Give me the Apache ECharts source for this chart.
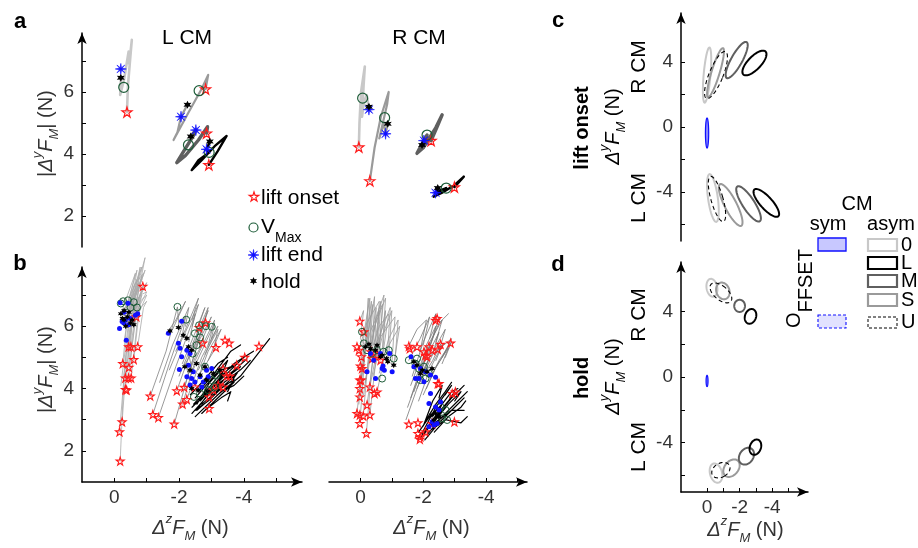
<!DOCTYPE html>
<html><head><meta charset="utf-8">
<script src="https://cdn.jsdelivr.net/npm/echarts@6/dist/echarts.min.js"></script>
<style>html,body{margin:0;padding:0;background:#fff}#c{width:918px;height:548px}</style>
</head><body><div id="c"></div>
<script>
// ---------- tick values / labels ----------
const yTicksAB = [2, 3, 4, 5, 6, 7];
const yLabelsAB = [2, 4, 6];
const xTicksB = [0, -1, -2, -3, -4, -5];
const xLabelsB = [0, -2, -4];
const yTicksCD = [-6, -4, -2, 0, 2, 4];
const yLabelsCD = [-4, 0, 4];
const xTicksD = [0, -1, -2, -3, -4, -5];
const xLabelsD = [0, -2, -4];

// ---------- panel a: mean trajectories (ΔzF, |ΔyF|) ----------
const aL0 = [[-0.39,5.35],[-0.42,6.2],[-0.5,7.2],[-0.54,7.68],[-0.46,6.9],[-0.44,7.3],[-0.3,6.4],[-0.18,5.9],[-0.2,6.4]];
const aLS = [[-2.82,6.09],[-2.9,6.55],[-2.7,6.1],[-2.3,5.35],[-1.83,4.45],[-1.95,4.7],[-2.06,5.2],[-2.26,5.59]];
const aLM = [[-2.85,4.67],[-2.88,4.88],[-2.6,4.45],[-2.2,3.95],[-1.93,3.72],[-2.15,4.1],[-2.45,4.6],[-2.52,4.77],[-2.36,4.56]];
const aLL = [[-2.92,3.65],[-3.2,4.1],[-3.47,4.58],[-3.1,4.25],[-2.7,3.8],[-2.39,3.48],[-2.6,3.8],[-2.93,4.05],[-2.85,4.15],[-2.95,4.4]];
const aR0 = [[0.05,4.22],[0.03,5.0],[-0.02,6.0],[-0.14,6.82],[-0.1,6.2],[-0.05,5.2],[-0.1,5.6],[-0.2,5.9],[-0.27,5.47]];
const aRS = [[-0.3,3.13],[-0.45,4.2],[-0.65,5.2],[-0.9,6.0],[-0.85,5.6],[-0.6,4.5],[-0.75,5.0],[-0.8,4.65],[-0.87,4.97]];
const aRM = [[-2.25,4.43],[-2.45,4.9],[-2.6,5.26],[-2.4,4.85],[-2.0,4.2],[-1.8,4.02],[-2.0,4.4],[-2.12,4.61],[-1.96,4.29]];
const aRL = [[-2.99,2.93],[-3.29,3.27],[-3.0,3.0],[-2.6,2.75],[-2.33,2.62],[-2.6,2.85],[-2.73,2.9],[-2.39,2.75],[-2.46,2.9]];

const aLOnset = [[-0.39,5.35],[-2.82,6.09],[-2.85,4.67],[-2.92,3.65]];
const aLVmax  = [[-0.29,6.15],[-2.62,6.04],[-2.29,4.29],[-2.93,4.05]];
const aLEnd   = [[-0.2,6.74],[-2.06,5.2],[-2.52,4.77],[-2.85,4.15]];
const aLHold  = [[-0.2,6.46],[-2.26,5.59],[-2.36,4.56],[-2.95,4.4]];
const aROnset = [[0.05,4.22],[-0.3,3.13],[-2.25,4.43],[-2.99,2.93]];
const aRVmax  = [[-0.07,5.8],[-0.77,5.17],[-2.12,4.61],[-2.73,2.9]];
const aREnd   = [[-0.27,5.43],[-0.8,4.65],[-2.02,4.43],[-2.39,2.75]];
const aRHold  = [[-0.27,5.52],[-0.87,4.97],[-1.96,4.29],[-2.46,2.9]];

// ---------- panel b: single trials ----------
const trajBL0 = [
 [[-0.18,1.67],[-0.3,4.5],[-0.55,7.0],[-0.3,6.3]],
 [[-0.16,2.61],[-0.35,5.0],[-0.7,7.5],[-0.25,6.4]],
 [[-0.24,2.93],[-0.4,5.2],[-0.8,7.9],[-0.4,6.2]],
 [[-0.34,3.97],[-0.5,5.8],[-0.95,8.2],[-0.45,6.3]],
 [[-0.34,4.34],[-0.6,6.5],[-0.85,7.6],[-0.35,6.0]],
 [[-0.44,4.34],[-0.7,6.8],[-0.9,7.3],[-0.5,6.1]],
 [[-0.52,4.34],[-0.8,7.0],[-1.0,7.1],[-0.55,6.2]],
 [[-0.45,4.68],[-0.6,6.9],[-0.75,7.4],[-0.3,6.5]],
 [[-0.26,4.8],[-0.45,6.8],[-0.65,7.7],[-0.2,6.4]],
 [[-0.6,4.93],[-0.8,6.8],[-1.0,7.0],[-0.6,6.05]],
 [[-0.44,5.34],[-0.6,7.0],[-0.85,7.5],[-0.4,6.3]],
 [[-0.72,5.34],[-0.9,6.6],[-1.0,6.8],[-0.5,6.25]],
 [[-0.68,6.3],[-0.85,7.0],[-0.7,6.6],[-0.45,6.45]],
 [[-0.88,7.28],[-0.8,7.0],[-0.55,6.5],[-0.3,6.2]],
 [[-0.51,5.34],[-0.75,7.2],[-0.95,7.8],[-0.35,6.1]],
 [[-0.3,5.5],[-0.55,7.1],[-0.85,7.9],[-0.4,6.4]],
 [[-0.2,4.1],[-0.45,6.2],[-0.7,7.8],[-0.3,6.35]],
 [[-0.5,5.0],[-0.75,6.9],[-1.0,7.4],[-0.5,6.3]],
 [[-0.35,6.0],[-0.6,7.3],[-0.9,7.7],[-0.45,6.5]]
];
const trajBLS = [
 [[-1.11,3.76],[-1.6,5.2],[-1.95,6.62],[-2.0,5.9]],
 [[-1.19,3.17],[-1.7,4.8],[-2.2,6.3],[-2.1,5.7]],
 [[-1.36,3.07],[-1.9,4.7],[-2.5,6.4],[-2.3,5.5]],
 [[-1.85,2.86],[-2.3,4.5],[-2.8,6.2],[-2.5,5.3]],
 [[-1.6,5.75],[-1.9,6.2],[-2.2,6.8],[-1.8,5.9]],
 [[-1.93,3.93],[-2.4,5.3],[-2.9,6.5],[-2.6,5.6]],
 [[-2.16,4.04],[-2.6,5.5],[-3.0,6.3],[-2.7,5.5]],
 [[-2.11,3.5],[-2.5,4.9],[-3.1,6.2],[-2.9,5.4]],
 [[-2.24,3.65],[-2.7,5.0],[-3.2,6.0],[-2.8,5.1]],
 [[-2.49,4.05],[-2.9,5.2],[-3.3,5.9],[-2.9,4.9]],
 [[-2.82,6.11],[-2.6,5.6],[-2.3,5.1],[-2.4,4.6]],
 [[-2.62,5.96],[-2.5,5.4],[-2.2,4.8],[-2.3,4.4]],
 [[-2.73,5.46],[-2.5,5.0],[-2.3,4.5]],
 [[-3.14,5.32],[-2.9,4.9],[-2.6,4.4]],
 [[-1.4,4.2],[-1.8,5.4],[-2.3,6.6],[-2.2,6.0]],
 [[-1.7,4.6],[-2.1,5.6],[-2.6,6.7],[-2.4,6.0]],
 [[-2.0,4.4],[-2.4,5.4],[-2.9,6.6],[-2.7,5.8]],
 [[-2.3,4.3],[-2.7,5.2],[-3.1,6.1],[-3.0,5.6]],
 [[-2.1,4.8],[-2.5,5.8],[-2.8,6.6],[-2.6,6.0]],
 [[-1.9,5.2],[-2.2,5.9],[-2.6,6.9],[-2.4,6.2]],
 [[-2.6,4.6],[-2.9,5.3],[-3.2,5.9],[-3.1,5.4]]
];
const trajBLL = [
 [[-2.4,3.2],[-3.0,3.9],[-3.6,4.5],[-4.1,4.95]],
 [[-2.5,3.1],[-3.2,3.8],[-3.9,4.4],[-4.8,5.6]],
 [[-2.6,3.4],[-3.1,4.1],[-3.5,4.6],[-3.8,4.8]],
 [[-2.7,3.5],[-3.3,4.0],[-3.7,4.3],[-3.5,3.9]],
 [[-2.5,3.7],[-3.0,4.3],[-3.5,4.9],[-3.3,4.4]],
 [[-2.8,3.3],[-3.3,3.7],[-3.6,3.9],[-3.5,3.6]],
 [[-2.6,3.9],[-3.1,4.5],[-3.6,5.2],[-3.9,5.4]],
 [[-2.9,3.6],[-3.4,4.2],[-3.9,4.6],[-4.2,4.9]],
 [[-2.45,3.5],[-2.9,4.0],[-3.3,4.5],[-3.2,4.2]],
 [[-2.7,3.2],[-3.1,3.6],[-3.5,4.0],[-3.7,4.2]],
 [[-2.55,3.3],[-3.0,3.7],[-3.4,4.1],[-3.8,4.5]],
 [[-2.9,3.9],[-3.3,4.4],[-3.7,4.8],[-4.3,5.2]],
 [[-2.5,3.3],[-2.9,3.6],[-3.3,4.0],[-3.6,4.3]],
 [[-2.65,3.6],[-3.0,4.0],[-3.4,4.3],[-3.9,4.7]],
 [[-2.75,3.8],[-3.2,4.2],[-3.6,4.6],[-4.0,5.0]],
 [[-2.4,3.4],[-2.8,3.8],[-3.2,4.2],[-3.5,4.5]],
 [[-2.85,3.45],[-3.3,3.9],[-3.7,4.1],[-4.0,4.4]],
 [[-2.55,3.5],[-2.95,4.2],[-3.3,4.6],[-3.6,4.7]],
 [[-3.0,3.8],[-3.4,4.3],[-3.8,4.5],[-3.6,4.2]],
 [[-2.35,3.8],[-2.8,4.3],[-3.2,4.8],[-3.5,5.0]]
];
const bLOnset = [[-0.88,7.28],[-0.68,6.3],[-0.72,5.34],[-0.44,5.34],[-0.51,5.34],[-0.6,4.93],[-0.26,4.8],[-0.45,4.68],[-0.34,4.34],[-0.44,4.34],[-0.52,4.34],[-0.34,3.97],[-0.38,3.95],[-0.24,2.93],[-0.16,2.61],[-0.18,1.67],
 [-1.11,3.76],[-1.19,3.17],[-1.36,3.07],[-1.85,2.86],[-1.93,3.93],[-2.16,4.04],[-2.11,3.5],[-2.24,3.65],[-2.49,4.05],[-2.82,6.11],[-2.62,5.96],[-2.73,5.46],[-3.14,5.32],[-3.42,5.55],[-3.55,5.46],[-4.03,5.0],[-3.78,4.75],[-3.36,4.63],[-3.47,4.4],[-3.57,4.4],[-3.21,4.11],[-3.06,3.95],[-2.93,3.73],[-2.93,3.36],[-3.36,4.05],[-4.47,5.36]];
const bLVmax = [[-0.27,6.8],[-0.42,6.83],[-0.6,6.77],[-0.2,6.73],[-0.7,6.6],[-0.5,6.6],
 [-1.95,6.62],[-2.22,6.21],[-2.62,6.03],[-2.83,6.0],[-3.01,5.98],[-2.49,5.77],[-2.65,5.64],[-2.54,5.39],[-2.42,5.12],[-2.8,4.7],[-3.16,4.43],[-3.01,4.27],[-2.46,3.73],[-2.65,3.84],[-2.9,3.95],[-3.11,4.05]];
const bLEnd = [[-0.18,6.75],[-0.42,6.74],[-0.72,6.4],[-0.65,6.35],[-0.34,6.2],[-0.24,6.15],[-0.16,5.93],[-0.37,5.55],[-0.29,6.1],[-0.44,6.05],[-0.49,6.25],[-0.3,6.45],
 [-1.67,5.77],[-2.08,6.16],[-1.98,5.45],[-2.03,5.29],[-2.08,5.02],[-2.24,5.23],[-2.34,5.12],[-2.01,4.61],[-2.29,4.75],[-2.44,4.54],[-2.65,4.38],[-2.85,4.59],[-3.01,4.64],[-2.75,4.21],[-2.7,4.05],[-2.49,4.21],[-2.34,4.11],[-2.9,4.38],[-2.24,4.38],[-2.39,4.32]];
const bLHold = [[-0.2,6.4],[-0.3,6.5],[-0.4,6.3],[-0.25,6.25],[-0.35,6.0],[-0.5,6.1],[-0.45,6.45],[-0.55,6.2],[-0.3,6.2],[-0.6,6.05],
 [-1.72,5.85],[-1.98,5.96],[-2.13,5.71],[-2.24,5.61],[-2.29,5.34],[-2.39,5.23],[-2.18,4.7],[-2.34,4.59],[-2.54,4.8],[-2.8,4.7],[-2.65,4.43],[-2.85,4.27],[-3.06,4.48],[-3.26,4.59],[-2.39,4.0],[-2.59,3.95]];

const trajBR0 = [
 [[0.02,2.88],[-0.1,4.5],[-0.25,6.9],[-0.2,5.4]],
 [[0.11,3.2],[-0.05,4.8],[-0.35,6.8],[-0.3,5.3]],
 [[-0.09,3.12],[-0.25,5.0],[-0.5,6.6],[-0.45,5.2]],
 [[-0.19,2.56],[-0.35,4.6],[-0.6,6.5],[-0.5,5.0]],
 [[-0.3,3.15],[-0.5,5.0],[-0.8,6.5],[-0.7,5.0]],
 [[-0.21,3.47],[-0.45,5.3],[-0.95,6.6],[-0.85,4.9]],
 [[0.02,4.0],[-0.2,5.6],[-0.4,6.7],[-0.3,5.3]],
 [[-0.3,4.05],[-0.6,5.6],[-1.1,6.3],[-1.0,4.8]],
 [[-0.53,3.89],[-0.8,5.2],[-1.25,6.0],[-1.05,4.7]],
 [[0,4.72],[-0.15,6.0],[-0.3,6.9],[-0.25,5.4]],
 [[0.05,5.23],[-0.2,6.1],[-0.6,6.8],[-0.5,5.2]],
 [[-0.34,5.18],[-0.6,6.0],[-0.9,6.4],[-0.7,5.0]],
 [[0.02,6.16],[-0.1,6.5],[0.0,5.6],[-0.2,5.3]],
 [[0.02,4.27],[-0.3,5.8],[-0.7,6.7],[-0.6,5.1]],
 [[0.05,3.5],[-0.15,5.2],[-0.45,6.95],[-0.4,5.4]],
 [[-0.1,3.8],[-0.35,5.5],[-0.65,6.8],[-0.55,5.2]],
 [[-0.4,4.4],[-0.7,5.7],[-1.0,6.5],[-0.9,5.0]],
 [[-0.15,4.2],[-0.45,6.0],[-0.8,6.9],[-0.7,5.3]],
 [[-0.6,4.5],[-0.9,5.6],[-1.2,6.2],[-1.1,4.9]],
 [[-0.25,4.6],[-0.5,6.3],[-0.75,7.0],[-0.6,5.4]]
];
const trajBRS = [
 [[-1.5,3.4],[-1.9,4.5],[-2.3,5.6],[-2.5,6.3]],
 [[-1.6,3.7],[-2.0,4.9],[-2.5,6.1],[-2.8,6.4]],
 [[-1.54,4.91],[-1.9,5.6],[-2.2,6.3],[-2.0,5.4]],
 [[-1.7,3.9],[-2.1,5.0],[-2.5,5.8],[-2.3,5.1]],
 [[-1.8,4.0],[-2.2,5.0],[-2.7,5.9],[-2.5,5.2]],
 [[-1.54,5.36],[-1.8,5.9],[-2.1,6.2],[-1.9,5.2]],
 [[-1.9,4.2],[-2.3,5.1],[-2.9,5.6],[-2.6,5.0]],
 [[-2.0,3.8],[-2.4,4.7],[-2.8,5.3],[-2.6,4.8]],
 [[-1.65,4.4],[-2.0,5.5],[-2.4,6.4],[-2.2,5.6]],
 [[-2.18,5.34],[-2.0,4.8],[-1.8,4.3]],
 [[-2.55,5.42],[-2.3,4.9],[-2.0,4.4]],
 [[-2.87,5.46],[-2.6,5.0],[-2.3,4.5]],
 [[-1.6,4.1],[-2.0,5.2],[-2.4,6.0],[-2.2,5.3]],
 [[-1.75,4.3],[-2.1,5.3],[-2.6,6.2],[-2.4,5.5]],
 [[-1.85,3.6],[-2.2,4.6],[-2.6,5.4],[-2.4,4.9]],
 [[-2.1,4.0],[-2.5,4.9],[-2.9,5.5],[-2.7,5.0]],
 [[-1.45,3.0],[-1.8,4.0],[-2.2,5.0],[-2.0,4.6]]
];
const trajBRL = [
 [[-1.9,2.4],[-2.3,3.0],[-2.8,3.6],[-3.2,4.0]],
 [[-2.0,2.5],[-2.5,3.2],[-2.9,3.7],[-3.3,4.1]],
 [[-1.85,2.6],[-2.2,3.1],[-2.6,3.5],[-2.5,3.3]],
 [[-2.1,2.7],[-2.5,3.0],[-2.9,3.3],[-3.3,3.3]],
 [[-2.2,2.8],[-2.6,3.3],[-3.0,3.9],[-2.8,3.6]],
 [[-2.3,2.7],[-2.7,3.0],[-3.2,2.9],[-3.4,3.1]],
 [[-1.95,2.55],[-2.4,3.4],[-2.9,4.1],[-2.7,3.8]],
 [[-2.4,3.0],[-2.8,3.5],[-3.2,3.9],[-3.0,3.6]],
 [[-2.0,2.8],[-2.3,3.6],[-2.6,4.1],[-2.5,3.7]],
 [[-2.05,2.35],[-2.5,2.9],[-3.0,3.4],[-3.3,3.7]],
 [[-2.15,2.55],[-2.6,3.1],[-3.1,3.6],[-3.4,3.9]],
 [[-2.25,3.1],[-2.6,3.5],[-2.9,3.9],[-3.1,4.0]],
 [[-2.1,3.0],[-2.4,3.5],[-2.7,3.9],[-2.9,4.2]],
 [[-2.35,2.6],[-2.8,3.1],[-3.2,3.4],[-3.35,3.6]]
];
const bROnset = [[0.02,6.16],[-0.11,5.82],[0.11,5.34],[0.05,5.23],[-0.03,5.02],[0,4.72],[-0.05,4.64],[0.02,4.27],[-0.02,4.27],[0.02,4.0],[-0.3,4.05],[-0.53,3.89],[-0.45,3.84],[0.02,3.73],[-0.21,3.47],[0.11,3.2],[0.02,3.15],[-0.09,3.12],[-0.3,3.15],[0.02,2.88],[-0.19,2.56],[-0.34,5.18],[-0.53,5.07],[-0.37,4.96],[-0.64,4.91],
 [-2.44,6.25],[-2.39,6.19],[-1.54,5.36],[-1.57,5.28],[-1.8,5.34],[-2.18,5.34],[-2.55,5.42],[-2.87,5.46],[-2.02,5.18],[-2.07,5.07],[-2.12,5.02],[-2.28,5.23],[-2.46,5.26],[-1.54,2.86],[-1.83,2.9],[-2.5,4.16],
 [-1.83,2.56],[-1.89,2.37],[-1.91,2.45],[-2.07,2.61],[-2.28,2.88],[-2.46,4.16],[-2.92,3.84],[-3.02,3.89],[-2.99,2.93]];
const bRVmax = [[-0.05,5.82],[-0.11,5.45],[-0.21,5.23],[-0.53,5.23],[-0.74,5.18],[-0.9,5.23],[-1.06,4.96],[-0.69,4.32],[-0.37,5.12],
 [-1.54,4.91],[-1.75,4.8],[-1.86,4.64],[-2.02,4.7],[-2.18,4.48],[-2.07,4.32],[-1.91,4.27],[-1.8,4.96],
 [-2.55,3.41],[-2.71,3.31],[-2.76,2.99],[-2.6,3.04]];
const bREnd = [[-0.21,4.54],[-0.48,4.32],[-0.32,5.12],[-0.69,4.64],[-0.76,4.59],[-0.93,5.12],[-1.01,4.54],[-0.72,4.72],[-0.42,4.91],[-0.64,5.12],
 [-1.61,5.02],[-1.7,4.7],[-1.91,4.64],[-1.86,4.32],[-2.07,4.54],[-2.23,4.43],[-2.39,4.36],[-2.02,4.22],[-1.75,4.32],
 [-2.23,3.84],[-2.18,3.52],[-2.39,3.41],[-2.5,3.31],[-2.28,2.93],[-2.34,2.83],[-2.44,2.88],[-2.18,2.77],[-2.55,3.57]];
const bRHold = [[-0.27,5.42],[-0.32,5.28],[-0.48,5.23],[-0.69,5.07],[-0.83,4.96],[-0.87,4.86],[-1.06,4.75],[-0.53,5.39],[-0.64,5.02],[-0.16,5.34],
 [-1.7,4.86],[-1.8,4.75],[-1.97,4.59],[-2.12,4.54],[-2.28,4.64],[-1.91,4.48],
 [-2.28,3.15],[-2.39,3.2],[-2.34,2.99],[-2.5,3.09]];

// ---------- panels c, d: ellipses [centre ΔzF, centre ΔyF, semi-major, semi-minor, tilt deg] ----------
const ellOnsetSym = [[0, -0.37, 0.92, 0.1, 0]];
const ellOnset0 = [[0, 3.19, 1.7, 0.21, 5], [-0.36, -4.36, 1.48, 0.3, -8]];
const ellOnsetS = [[-0.52, 3.34, 1.57, 0.25, 17], [-1.45, -4.79, 1.43, 0.37, -27]];
const ellOnsetU = [[-0.55, 3.19, 1.55, 0.43, 22], [-0.61, -4.42, 1.44, 0.37, -16]];
const ellOnsetM = [[-1.82, 4.11, 1.26, 0.34, 29], [-2.55, -4.72, 1.27, 0.37, -33]];
const ellOnsetL = [[-2.91, 3.93, 0.98, 0.4, 44], [-3.64, -4.66, 1.1, 0.37, -42]];
const ellHoldSym = [[0, -0.24, 0.34, 0.06, 0]];
const ellHold0 = [[-0.3, 5.43, 0.55, 0.33, -10], [-0.55, -5.85, 0.6, 0.37, -15]];
const ellHoldU = [[-0.85, 5.12, 0.8, 0.42, -50], [-0.85, -5.67, 0.6, 0.42, 60]];
const ellHoldS = [[-0.97, 5.24, 0.52, 0.4, -20], [-1.5, -5.55, 0.6, 0.42, 40]];
const ellHoldM = [[-2.0, 4.33, 0.37, 0.33, 0], [-2.42, -4.82, 0.55, 0.42, 35]];
const ellHoldL = [[-2.67, 3.69, 0.46, 0.34, 20], [-2.97, -4.27, 0.48, 0.34, 20]];

// ---------- styling ----------
const FF = '"Liberation Sans", Arial, Helvetica, sans-serif';
const C0 = '#c8c8c8', CS = '#9a9a9a', CMc = '#5f5f5f', CL = '#000000';
const RED = '#ff1a1a', GREEN = '#1d5c38', BLUE = '#1010ff', TXT = '#333';
const STAR_PTS = [[50,0],[61.2,34.5],[97.6,34.5],[68.2,55.9],[79.4,90.5],[50,69.1],[20.6,90.5],[31.8,55.9],[2.4,34.5],[38.8,34.5]];
const HEX_PTS = [[50,0],[62.5,28.3],[93.3,25],[75,50],[93.3,75],[62.5,71.7],[50,100],[37.5,71.7],[6.7,75],[25,50],[6.7,25],[37.5,28.3]];
const AST_PTS = [[50,0],[56,38],[85.4,14.6],[62,44],[100,50],[62,56],[85.4,85.4],[56,62],[50,100],[44,62],[14.6,85.4],[38,56],[0,50],[38,44],[14.6,14.6],[44,38]];
const toPath = pts => 'path://M' + pts.map(p => p[0] + ',' + p[1]).join(' L') + ' Z';
const STAR = toPath(STAR_PTS), HEX = toPath(HEX_PTS), AST = toPath(AST_PTS);
const icon = (pts, cx, cy, sz) => pts.map(p => [cx + (p[0] - 50) / 100 * sz, cy + (p[1] - 50) / 100 * sz]);

function flat(trajs) { const out = []; trajs.forEach((t, i) => { if (i) out.push(['-', '-']); t.forEach(p => out.push(p)); }); return out; }
function ln(data, gi, color, w, z) {
  return { type: 'line', xAxisIndex: gi, yAxisIndex: gi, data, symbol: 'none', showSymbol: false, clip: false, silent: true,
    animation: false, connectNulls: false, lineStyle: { color, width: w, cap: 'round', join: 'round' }, z: z || 2 };
}
function sc(data, gi, symbol, size, fill, stroke, bw, z) {
  return { type: 'scatter', xAxisIndex: gi, yAxisIndex: gi, data, symbol, symbolSize: size, silent: true,
    animation: false, clip: false, itemStyle: { color: fill, borderColor: stroke, borderWidth: bw, opacity: 1 }, z: z };
}
function ell(data, gi, stroke, w, dash, fill) {
  return { type: 'custom', xAxisIndex: gi, yAxisIndex: gi, data, silent: true, animation: false, z: 3,
    dimensions: ['x', 'y', 'a', 'b', 't'], encode: { x: 0, y: 1 },
    renderItem: function (params, api) {
      const c = api.coord([api.value(0), api.value(1)]);
      const s = api.size([1, 1]);
      const a = api.value(2), b = api.value(3), th = api.value(4) * Math.PI / 180;
      const pts = [];
      for (let k = 0; k < 72; k++) {
        const p = k / 72 * 2 * Math.PI;
        const u = b * Math.cos(p), v = a * Math.sin(p);
        pts.push([c[0] + (u * Math.cos(th) + v * Math.sin(th)) * s[0],
                  c[1] - (-u * Math.sin(th) + v * Math.cos(th)) * s[1]]);
      }
      const style = { fill: fill || 'none', stroke: stroke, lineWidth: w };
      if (dash) style.lineDash = dash;
      return { type: 'polygon', shape: { points: pts }, style: style };
    } };
}

const axLine = { show: true, onZero: false, symbol: ['none', 'arrow'], symbolSize: [7, 11], lineStyle: { color: '#000', width: 1.5 } };
function xAx(gi, min, max, show, ticks, labels) {
  const o = { gridIndex: gi, type: 'value', min, max, inverse: true, show,
    axisLine: axLine, splitLine: { show: false },
    axisTick: { show: true, inside: true, length: 4, lineStyle: { color: '#000', width: 1 } },
    axisLabel: { show: true, color: TXT, fontSize: 19, fontFamily: FF, margin: 6 } };
  if (ticks) o.axisTick.customValues = ticks;
  if (labels) o.axisLabel.customValues = labels;
  return o;
}
function yAx(gi, min, max, show, ticks, labels) {
  const o = { gridIndex: gi, type: 'value', min, max, show,
    axisLine: axLine, splitLine: { show: false },
    axisTick: { show: true, inside: true, length: 4, lineStyle: { color: '#000', width: 1 } },
    axisLabel: { show: true, color: TXT, fontSize: 19, fontFamily: FF, margin: 8 } };
  if (ticks) o.axisTick.customValues = ticks;
  if (labels) o.axisLabel.customValues = labels;
  return o;
}

const grids = [
  { left: 82, top: 33, width: 220, height: 214 },
  { left: 329, top: 33, width: 198, height: 214 },
  { left: 82, top: 267, width: 220, height: 215 },
  { left: 329, top: 267, width: 198, height: 215 },
  { left: 681, top: 13, width: 127, height: 228 },
  { left: 681, top: 262, width: 127, height: 230 }
];
const xAxes = [
  xAx(0, -5.8, 1, false), xAx(1, -5.3, 1, false),
  xAx(2, -5.8, 1, true, xTicksB, xLabelsB), xAx(3, -5.3, 1, true, xTicksB, xLabelsB),
  xAx(4, -6.2, 1.6, false), xAx(5, -6.2, 1.6, true, xTicksD, xLabelsD)
];
const yAxes = [
  yAx(0, 1, 7.9, true, yTicksAB, yLabelsAB), yAx(1, 1, 7.9, false),
  yAx(2, 1, 7.9, true, yTicksAB, yLabelsAB), yAx(3, 1, 7.9, false),
  yAx(4, -7, 7, true, yTicksCD, yLabelsCD), yAx(5, -7, 7, true, yTicksCD, yLabelsCD)
];

const series = [];
[[0, aL0, aLS, aLM, aLL], [1, aR0, aRS, aRM, aRL]].forEach(([g, t0, tS, tM, tL]) => {
  series.push(ln(t0, g, C0, 2.6), ln(tS, g, CS, 2.2), ln(tM, g, CMc, 3.4), ln(tL, g, CL, 2.4));
});
[[0, aLOnset, aLVmax, aLEnd, aLHold], [1, aROnset, aRVmax, aREnd, aRHold]].forEach(([g, on, vm, en, ho]) => {
  series.push(sc(on, g, STAR, 10, 'rgba(255,255,255,0)', RED, 1.2, 5));
  series.push(sc(vm, g, 'circle', 10, 'rgba(255,255,255,0)', GREEN, 1.2, 6));
  series.push(sc(en, g, AST, 11, BLUE, BLUE, 0.6, 7));
  series.push(sc(ho, g, HEX, 8, '#000', '#000', 0, 8));
});
series.push(ln(flat(trajBL0), 2, '#aaaaaa', 0.8), ln(flat(trajBLS), 2, '#808080', 0.8), ln(flat(trajBLL), 2, '#000', 1.2));
series.push(ln(flat(trajBR0), 3, '#999999', 0.8), ln(flat(trajBRS), 3, '#777777', 0.8), ln(flat(trajBRL), 3, '#000', 1.2));
[[2, bLOnset, bLVmax, bLEnd, bLHold], [3, bROnset, bRVmax, bREnd, bRHold]].forEach(([g, on, vm, en, ho]) => {
  series.push(sc(on, g, STAR, 8, 'rgba(255,255,255,0)', RED, 1.1, 5));
  series.push(sc(vm, g, 'circle', 7, 'rgba(255,255,255,0)', GREEN, 1, 6));
  series.push(sc(en, g, 'circle', 5, BLUE, BLUE, 0, 7));
  series.push(sc(ho, g, HEX, 6, '#000', '#000', 0, 8));
});
series.push(
  ell(ellOnset0, 4, C0, 2), ell(ellOnsetS, 4, CS, 2), ell(ellOnsetU, 4, '#000', 1.1, [4, 3]),
  ell(ellOnsetM, 4, CMc, 2), ell(ellOnsetL, 4, CL, 2), ell(ellOnsetSym, 4, BLUE, 1.2, null, 'rgba(40,40,255,0.55)'),
  ell(ellHold0, 5, C0, 2), ell(ellHoldS, 5, CS, 2), ell(ellHoldU, 5, '#000', 1.1, [4, 3]),
  ell(ellHoldM, 5, CMc, 2), ell(ellHoldL, 5, CL, 2), ell(ellHoldSym, 5, BLUE, 1.2, null, 'rgba(40,40,255,0.55)')
);

// ---------- texts ----------
function rs(fs, extra) { return Object.assign({ fontSize: fs, fontFamily: FF, fill: TXT, lineHeight: fs + 2 }, extra || {}); }
function richLabel(col) {
  return {
    n: rs(20, { fill: col }), i: rs(20, { fill: col, fontStyle: 'italic' }),
    sup: rs(13, { fill: col, fontStyle: 'italic', lineHeight: 13, verticalAlign: 'top' }),
    sub: rs(13, { fill: col, fontStyle: 'italic', lineHeight: 13, verticalAlign: 'bottom' }),
    sp: { fontSize: 3, lineHeight: 30 }
  };
}
function T(x, y, text, o) {
  o = o || {};
  const st = Object.assign({ text, fontFamily: FF, fontSize: 20, fill: '#000',
    align: 'center', verticalAlign: 'middle' }, o.style || {});
  return { type: 'text', x, y, rotation: o.rot || 0, silent: true, z: 100, style: st };
}
function P(pts, style) { return { type: 'polygon', silent: true, z: 100, shape: { points: pts }, style }; }
const yLab = '{sp| }{n||}{i|Δ}{sup|y}{i|F}{sub|M}{n|| (N)}';
const yLab2 = '{sp| }{i|Δ}{sup|y}{i|F}{sub|M}{n| (N)}';
const xLab = '{sp| }{i|Δ}{sup|z}{i|F}{sub|M}{n| (N)}';
const R90 = Math.PI / 2;
const graphic = [
  T(20, 22, 'a', { style: { fontWeight: 'bold', fontSize: 22 } }),
  T(20, 264, 'b', { style: { fontWeight: 'bold', fontSize: 22 } }),
  T(558, 21, 'c', { style: { fontWeight: 'bold', fontSize: 22 } }),
  T(558, 265, 'd', { style: { fontWeight: 'bold', fontSize: 22 } }),
  T(187, 38, 'L CM', { style: { fontSize: 21 } }),
  T(419, 38, 'R CM', { style: { fontSize: 21 } }),
  T(46, 134, yLab, { rot: R90, style: { rich: richLabel(TXT) } }),
  T(46, 370, yLab, { rot: R90, style: { rich: richLabel(TXT) } }),
  T(190, 528, xLab, { style: { rich: richLabel(TXT) } }),
  T(431, 528, xLab, { style: { rich: richLabel(TXT) } }),
  T(745, 530, xLab, { style: { rich: richLabel(TXT) } }),
  T(613, 127, yLab2, { rot: R90, style: { rich: richLabel('#000') } }),
  T(613, 377, yLab2, { rot: R90, style: { rich: richLabel('#000') } }),
  T(582, 128, 'lift onset', { rot: R90, style: { fontWeight: 'bold', fontSize: 20 } }),
  T(582, 378, 'hold', { rot: R90, style: { fontWeight: 'bold', fontSize: 20 } }),
  T(639, 67, 'R CM', { rot: R90, style: { fontSize: 21 } }),
  T(639, 198, 'L CM', { rot: R90, style: { fontSize: 21 } }),
  T(639, 315, 'R CM', { rot: R90, style: { fontSize: 21 } }),
  T(639, 447, 'L CM', { rot: R90, style: { fontSize: 21 } }),
  // legend a/b
  P(icon(STAR_PTS, 254, 197, 10), { fill: 'none', stroke: RED, lineWidth: 1.2 }),
  { type: 'circle', silent: true, z: 100, shape: { cx: 253.5, cy: 227.5, r: 4.5 }, style: { fill: 'none', stroke: GREEN, lineWidth: 1.2 } },
  P(icon(AST_PTS, 253.5, 255, 11), { fill: BLUE, stroke: BLUE, lineWidth: 0.6 }),
  P(icon(HEX_PTS, 253.5, 281, 8), { fill: '#000' }),
  T(261, 198, 'lift onset', { style: { align: 'left', fontSize: 21 } }),
  T(261, 231, '{v|V}{s|Max}{sp| }', { style: { align: 'left', rich: {
      v: { fontSize: 21, fontFamily: FF, fill: '#000', lineHeight: 21, verticalAlign: 'top' },
      s: { fontSize: 14, fontFamily: FF, fill: '#000', lineHeight: 14, verticalAlign: 'bottom' },
      sp: { fontSize: 3, lineHeight: 28 } } } }),
  T(261, 255, 'lift end', { style: { align: 'left', fontSize: 21 } }),
  T(261, 282, 'hold', { style: { align: 'left', fontSize: 21 } }),
  // legend c/d
  T(857, 204, 'CM', { style: { fontSize: 20 } }),
  T(828, 224, 'sym', { style: { fontSize: 20 } }),
  T(891, 224, 'asym', { style: { fontSize: 20 } }),
  { type: 'rect', silent: true, z: 100, shape: { x: 818, y: 238, width: 28, height: 13 }, style: { fill: '#c8c8ff', stroke: BLUE, lineWidth: 1.3 } },
  { type: 'rect', silent: true, z: 100, shape: { x: 818, y: 315, width: 28, height: 13 }, style: { fill: '#e2e2ff', stroke: BLUE, lineWidth: 1.1, lineDash: [3, 2] } },
  { type: 'rect', silent: true, z: 100, shape: { x: 868, y: 239, width: 29, height: 12 }, style: { fill: '#fff', stroke: C0, lineWidth: 2.2 } },
  { type: 'rect', silent: true, z: 100, shape: { x: 868, y: 257, width: 29, height: 12 }, style: { fill: '#fff', stroke: CL, lineWidth: 2.2 } },
  { type: 'rect', silent: true, z: 100, shape: { x: 868, y: 275, width: 29, height: 12 }, style: { fill: '#fff', stroke: CMc, lineWidth: 2.2 } },
  { type: 'rect', silent: true, z: 100, shape: { x: 868, y: 294, width: 29, height: 12 }, style: { fill: '#fff', stroke: CS, lineWidth: 2.2 } },
  { type: 'rect', silent: true, z: 100, shape: { x: 868, y: 317, width: 29, height: 11 }, style: { fill: '#fff', stroke: '#000', lineWidth: 1, lineDash: [3, 2] } },
  T(901, 245, '0', { style: { align: 'left', fontSize: 20 } }),
  T(901, 263, 'L', { style: { align: 'left', fontSize: 20 } }),
  T(901, 281, 'M', { style: { align: 'left', fontSize: 20 } }),
  T(901, 300, 'S', { style: { align: 'left', fontSize: 20 } }),
  T(901, 322, 'U', { style: { align: 'left', fontSize: 20 } }),
  T(800, 328, '{o|O}{f|FFSET}{sp| }', { rot: R90, style: { align: 'left', rich: {
      o: { fontSize: 20, fontFamily: FF, fill: '#000', lineHeight: 20, verticalAlign: 'top' },
      f: { fontSize: 20, fontFamily: FF, fill: '#000', lineHeight: 20, verticalAlign: 'bottom' },
      sp: { fontSize: 3, lineHeight: 32 } } } })
];

const chart = echarts.init(document.getElementById('c'), null, { renderer: 'canvas' });
try {
  chart.setOption({ animation: false, backgroundColor: '#fff', grid: grids, xAxis: xAxes, yAxis: yAxes, series: series });
} catch (e) { console.error('series', e); }
try { chart.setOption({ graphic: graphic }); } catch (e) { console.error('graphic', e); }
</script></body></html>
